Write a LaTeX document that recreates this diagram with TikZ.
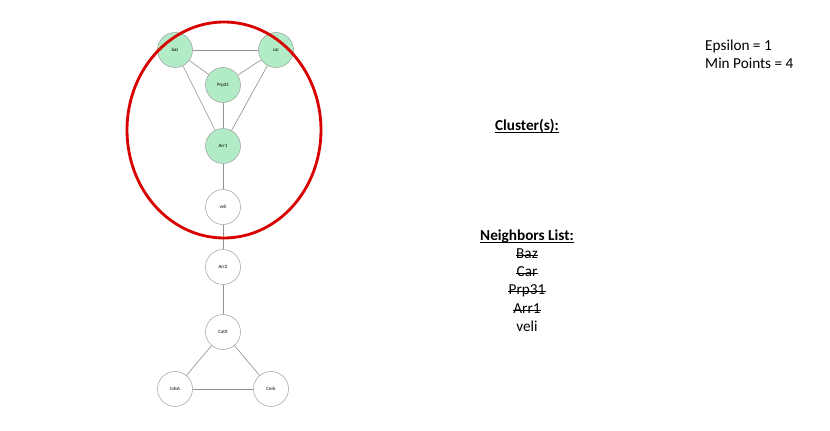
\documentclass[tikz,border=0pt]{standalone}
\usepackage{fontspec}
\setmainfont{Carlito}

\newlength{\pxu}
\setlength{\pxu}{0.03cm}
\tikzset{
  pt/.style={circle, draw=gray!80, fill=white, minimum size=35\pxu, inner sep=0pt, font=\fontsize{4.2}{5}\selectfont},
  core/.style={pt, fill=green!50!teal!30},
  link/.style={draw=gray!85, line width=0.55pt},
  txt/.style={font=\fontsize{13}{15}\selectfont, inner sep=0pt, text height=0.7em, text depth=0.22em},
  strike/.style={line width=0.55pt}
}

\begin{document}
\begin{tikzpicture}[x=0.03cm, y=-0.03cm]
        % Bounding box of the picture
        \useasboundingbox (0,0) rectangle (830,431);

        % Points of the graph
        \node[core] (baz) at (175,50) {baz};
        \node[core] (car) at (276,50) {car};
        \node[core] (prp) at (223,85) {Prp31};
        \node[core] (arr1) at (223,146) {Arr1};
        \node[pt] (veli) at (223,207) {veli};
        \node[pt] (arr2) at (223,267) {Arr2};
        \node[pt] (catx) at (223,332) {CatX};
        \node[pt] (cdsa) at (175,389) {CdsA};
        \node[pt] (cerk) at (271,389) {Cerk};

        % Draw the edges
        \draw[link] (baz) -- (car);
        \draw[link] (baz) -- (prp);
        \draw[link] (car) -- (prp);
        \draw[link] (baz) -- (arr1);
        \draw[link] (car) -- (arr1);
        \draw[link] (prp) -- (arr1);
        \draw[link] (arr1) -- (veli);
        \draw[link] (veli) -- (arr2);
        \draw[link] (arr2) -- (catx);
        \draw[link] (catx) -- (cdsa);
        \draw[link] (catx) -- (cerk);
        \draw[link] (cdsa) -- (cerk);

        % Mark the cluster
        \draw[red!85!black, line width=2.4pt] (224,130) ellipse [x radius=97, y radius=108];

        % Parameters
        \node[txt, anchor=west] (eps) at (705,48) {Epsilon = 1};
        \node[txt, anchor=west] (minpts) at (705,66) {Min Points = 4};

        % Lists
        \node[txt] (clusters) at (527,128) {\textbf{Cluster(s):}};
        \node[txt] (nblist) at (527,238) {\textbf{Neighbors List:}};
        \node[txt] (nbaz) at (527,256) {Baz};
        \node[txt] (ncar) at (527,274) {Car};
        \node[txt] (nprp) at (527,292) {Prp31};
        \node[txt] (narr) at (527,311) {Arr1};
        \node[txt] (nveli) at (527,329) {veli};

        % Underline the headings
        \draw[strike] ([yshift=-1.6pt]clusters.base west) -- ([yshift=-1.6pt]clusters.base east);
        \draw[strike] ([yshift=-1.6pt]nblist.base west) -- ([yshift=-1.6pt]nblist.base east);

        % Strike out the visited points
        \foreach \n in {nbaz,ncar,nprp,narr}
          \draw[strike] ([yshift=3.2pt]\n.base west) -- ([yshift=3.2pt]\n.base east);
    \end{tikzpicture}
\end{document}
